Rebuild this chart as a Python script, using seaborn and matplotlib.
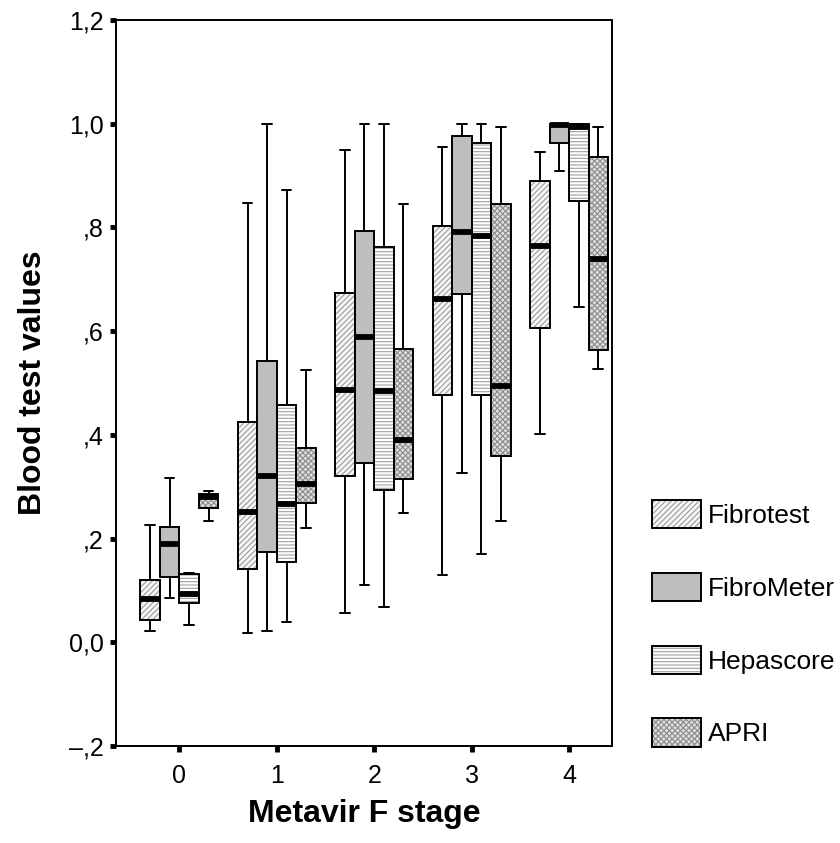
import numpy as np
import pandas as pd
import matplotlib
matplotlib.use("Agg")
import matplotlib.pyplot as plt
import matplotlib.patches as mpatches
from matplotlib.colors import to_rgba
from matplotlib.legend_handler import HandlerTuple
import seaborn as sns

stages = ["0", "1", "2", "3", "4"]
tests = ["Fibrotest", "FibroMeter", "Hepascore", "APRI"]

# five-number summaries per Metavir stage: [low whisker, Q1, median, Q3, high whisker]
fibrotest = [[0.021, 0.043, 0.083, 0.120, 0.226],
             [0.017, 0.141, 0.252, 0.425, 0.847],
             [0.056, 0.320, 0.487, 0.673, 0.949],
             [0.129, 0.476, 0.662, 0.803, 0.956],
             [0.401, 0.606, 0.764, 0.890, 0.946]]
fibrometer = [[0.085, 0.126, 0.189, 0.222, 0.317],
              [0.021, 0.174, 0.321, 0.542, 1.000],
              [0.110, 0.345, 0.589, 0.793, 1.000],
              [0.326, 0.672, 0.791, 0.977, 1.000],
              [0.908, 0.962, 0.998, 1.000, 1.000]]
hepascore = [[0.034, 0.075, 0.093, 0.131, 0.133],
             [0.040, 0.154, 0.267, 0.457, 0.872],
             [0.069, 0.294, 0.484, 0.762, 1.000],
             [0.171, 0.476, 0.783, 0.962, 1.000],
             [0.647, 0.851, 0.993, 1.000, 1.000]]
apri = [[0.234, 0.259, 0.281, 0.286, 0.292],
        [0.221, 0.269, 0.306, 0.374, 0.525],
        [0.250, 0.314, 0.391, 0.565, 0.845],
        [0.234, 0.360, 0.494, 0.845, 0.993],
        [0.527, 0.563, 0.739, 0.936, 0.993]]

ytick_values = [-0.2, 0.0, 0.2, 0.4, 0.6, 0.8, 1.0, 1.2]
ytick_labels = ["\u2013,2", "0,0", ",2", ",4", ",6", ",8", "1,0", "1,2"]

face_colors = {"Fibrotest": "#f6f6f6", "FibroMeter": "#bebebe",
               "Hepascore": "#ffffff", "APRI": "#dedede"}
hatches = {"Fibrotest": "//////", "FibroMeter": None,
           "Hepascore": "-----", "APRI": "xxxxxx"}
hatch_colors = {"Fibrotest": "#9a9a9a", "FibroMeter": "#bebebe",
                "Hepascore": "#a0a0a0", "APRI": "#8c8c8c"}

rows = []
for test, summ in zip(tests, [fibrotest, fibrometer, hepascore, apri]):
    for stage, five in zip(stages, summ):
        for v in five:
            rows.append({"stage": stage, "test": test, "value": v})
df = pd.DataFrame(rows)

sns.set_style("ticks")
plt.rcParams["font.family"] = ["Liberation Sans", "DejaVu Sans"]
plt.rcParams["hatch.linewidth"] = 0.8
for k in ["text.color", "axes.labelcolor", "xtick.color", "ytick.color", "axes.edgecolor"]:
    plt.rcParams[k] = "black"

fig = plt.figure(figsize=(8.4, 8.43), dpi=100)
ax = fig.add_axes([116 / 840, 1 - 746 / 843, (612 - 116) / 840, (746 - 20) / 843])

sns.boxplot(data=df, x="stage", y="value", hue="test", order=stages, hue_order=tests,
            palette=face_colors, saturation=1, whis=(0, 100), width=0.8, gap=0,
            linewidth=1.4, linecolor="black", showfliers=False,
            medianprops=dict(color="black", linewidth=4.2),
            ax=ax, legend=False)

lw_box = 1.4
for p in list(ax.patches):
    fc = p.get_facecolor()
    match = None
    for t in tests:
        if np.allclose(fc, to_rgba(face_colors[t]), atol=0.01):
            match = t
    if match is None:
        continue
    p.set_hatch(hatches[match])
    p.set_edgecolor(hatch_colors[match])
    p.set_linewidth(0)
    outline = mpatches.PathPatch(p.get_path(), transform=p.get_transform(),
                                 facecolor="none", edgecolor="black", lw=lw_box,
                                 zorder=p.get_zorder() + 0.05)
    ax.add_patch(outline)

ax.set_xlim(-0.65, 4.44)
ax.set_ylim(-0.2, 1.2)
ax.set_yticks(ytick_values)
ax.set_yticklabels(ytick_labels)
for s in ax.spines.values():
    s.set_visible(True)
    s.set_linewidth(1.4)
    s.set_color("black")
ax.tick_params(axis="both", direction="out", length=4, width=3.5, labelsize=18,
               color="black", labelcolor="black")
ax.tick_params(axis="y", pad=5)
ax.tick_params(axis="x", pad=9)
ax.set_xlabel("Metavir F stage", fontsize=23, fontweight="bold", labelpad=8)
ax.set_ylabel("Blood test values", fontsize=23, fontweight="bold", labelpad=15)

handles = []
for t in tests:
    h1 = mpatches.Patch(facecolor=face_colors[t], hatch=hatches[t],
                        edgecolor=hatch_colors[t], lw=0)
    h2 = mpatches.Patch(facecolor="none", edgecolor="black", lw=lw_box)
    handles.append((h1, h2))
fig.legend(handles, tests, handler_map={tuple: HandlerTuple(ndivide=1, pad=0)},
           loc="upper left", bbox_to_anchor=(652 / 840, 1 - 500 / 843),
           frameon=False, fontsize=19, handlelength=1.85, handleheight=1.28,
           labelspacing=1.68, handletextpad=0.27, borderpad=0, borderaxespad=0)

fig.savefig("out.png", dpi=100)
